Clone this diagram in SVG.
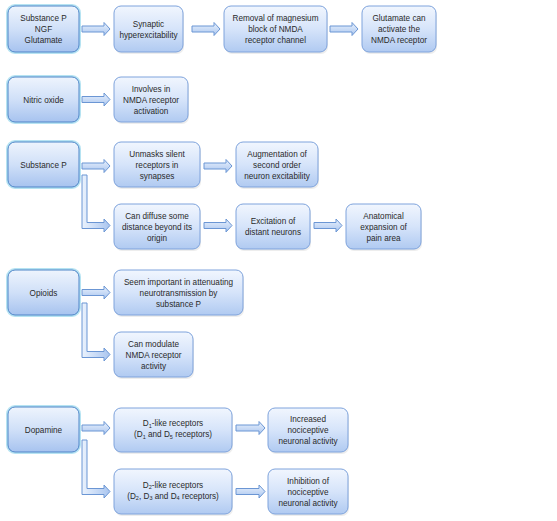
<svg xmlns="http://www.w3.org/2000/svg" width="557" height="521" viewBox="0 0 557 521">
<defs>
<linearGradient id="gBox" x1="0" y1="0" x2="0" y2="1">
<stop offset="0" stop-color="#f1f6fe"/>
<stop offset="0.5" stop-color="#d6e4fa"/>
<stop offset="1" stop-color="#b0caf1"/>
</linearGradient>
<linearGradient id="gSrc" x1="0" y1="0" x2="0" y2="1">
<stop offset="0" stop-color="#eef4fd"/>
<stop offset="0.5" stop-color="#d0e0f8"/>
<stop offset="1" stop-color="#a7c3ef"/>
</linearGradient>
<linearGradient id="gArr" x1="0" y1="0" x2="0" y2="1">
<stop offset="0" stop-color="#eaf2fd"/>
<stop offset="1" stop-color="#a9c5ef"/>
</linearGradient>
<linearGradient id="gArrV" x1="0" y1="0" x2="1" y2="0">
<stop offset="0" stop-color="#eaf2fd"/>
<stop offset="1" stop-color="#a9c5ef"/>
</linearGradient>
</defs>
<style>
.box{fill:url(#gBox);stroke:#7ea3dc;stroke-width:1}
.shadow{fill:#000;opacity:0.07}
.src{fill:url(#gSrc);stroke:#4f85c8;stroke-width:1}
.glow{fill:none;stroke:#aee0f1;stroke-width:4;opacity:0.9}
.arr{fill:url(#gArr);stroke:#6b96d4;stroke-width:1}
.arrL{fill:url(#gArrV);stroke:#6b96d4;stroke-width:1}
text{font-family:"Liberation Sans",Arial,sans-serif;font-size:8.2px;fill:#2a2a2a;text-anchor:middle}
.sub{font-size:5.5px}
</style>

<g id="connectors">
<path class="arr" d="M82,26 H104 V22.5 L110,29 L104,35.5 V32 H82 Z"/>
<path class="arr" d="M192,26 H214 V22.5 L220,29 L214,35.5 V32 H192 Z"/>
<path class="arr" d="M330,26 H352 V22.5 L358,29 L352,35.5 V32 H330 Z"/>
<path class="arr" d="M82,96.5 H104 V93 L110,99.5 L104,106 V102.5 H82 Z"/>
<path class="arr" d="M82,163 H104 V159.5 L110,166 L104,172.5 V169 H82 Z"/>
<path class="arr" d="M204,163 H226 V159.5 L232,166 L226,172.5 V169 H204 Z"/>
<path class="arrL" d="M82,175 H87 V222.5 H104 V219 L110,225.5 L104,232 V228.5 H82 Z"/>
<path class="arr" d="M204,222.5 H226 V219 L232,225.5 L226,232 V228.5 H204 Z"/>
<path class="arr" d="M314,222.5 H336 V219 L342,225.5 L336,232 V228.5 H314 Z"/>
<path class="arr" d="M82,289.5 H104 V286 L110,292.5 L104,299 V295.5 H82 Z"/>
<path class="arrL" d="M82,303 H87 V351.5 H104 V348 L110,354.5 L104,361 V357.5 H82 Z"/>
<path class="arr" d="M82,425 H104 V421.5 L110,428 L104,434.5 V431 H82 Z"/>
<path class="arrL" d="M82,440 H87 V488.5 H104 V485 L110,491.5 L104,498 V494.5 H82 Z"/>
<path class="arr" d="M236,425 H259 V421.5 L265,428 L259,434.5 V431 H236 Z"/>
<path class="arr" d="M236,488.5 H259 V485 L265,491.5 L259,498 V494.5 H236 Z"/>
</g>

<g id="n-substanceP-ngf">
<rect class="glow" x="8" y="6" width="71" height="46" rx="7"/>
<rect class="src" x="8" y="6" width="71" height="46" rx="7"/>
<text x="43.5" y="21">Substance P</text>
<text x="43.5" y="32">NGF</text>
<text x="43.5" y="43">Glutamate</text>
</g>
<g id="n-synaptic">
<rect class="shadow" x="115" y="8" width="69" height="46" rx="7"/>
<rect class="box" x="114" y="6" width="69" height="46" rx="7"/>
<text x="148.5" y="26.5">Synaptic</text>
<text x="148.5" y="37.5">hyperexcitability</text>
</g>
<g id="n-removal">
<rect class="shadow" x="225" y="8" width="103" height="46" rx="7"/>
<rect class="box" x="224" y="6" width="103" height="46" rx="7"/>
<text x="275.5" y="21">Removal of magnesium</text>
<text x="275.5" y="32">block of NMDA</text>
<text x="275.5" y="43">receptor channel</text>
</g>
<g id="n-glutamate">
<rect class="shadow" x="363" y="8" width="74" height="46" rx="7"/>
<rect class="box" x="362" y="6" width="74" height="46" rx="7"/>
<text x="399" y="21">Glutamate can</text>
<text x="399" y="32">activate the</text>
<text x="399" y="43">NMDA receptor</text>
</g>

<g id="n-nitric">
<rect class="glow" x="8" y="77" width="71" height="45" rx="7"/>
<rect class="src" x="8" y="77" width="71" height="45" rx="7"/>
<text x="43.5" y="102.5">Nitric oxide</text>
</g>
<g id="n-involves">
<rect class="shadow" x="115" y="79" width="74" height="45" rx="7"/>
<rect class="box" x="114" y="77" width="74" height="45" rx="7"/>
<text x="151" y="91.5">Involves in</text>
<text x="151" y="102.5">NMDA receptor</text>
<text x="151" y="113.5">activation</text>
</g>

<g id="n-substanceP">
<rect class="glow" x="8" y="142" width="71" height="45" rx="7"/>
<rect class="src" x="8" y="142" width="71" height="45" rx="7"/>
<text x="43.5" y="167.5">Substance P</text>
</g>
<g id="n-unmasks">
<rect class="shadow" x="115" y="144" width="86" height="45" rx="7"/>
<rect class="box" x="114" y="142" width="86" height="45" rx="7"/>
<text x="157" y="156.5">Unmasks silent</text>
<text x="157" y="167.5">receptors in</text>
<text x="157" y="178.5">synapses</text>
</g>
<g id="n-augmentation">
<rect class="shadow" x="237" y="144" width="82" height="45" rx="7"/>
<rect class="box" x="236" y="142" width="82" height="45" rx="7"/>
<text x="277" y="156.5">Augmentation of</text>
<text x="277" y="167.5">second order</text>
<text x="277" y="178.5">neuron excitability</text>
</g>
<g id="n-diffuse">
<rect class="shadow" x="115" y="206" width="86" height="45" rx="7"/>
<rect class="box" x="114" y="204" width="86" height="45" rx="7"/>
<text x="157" y="218.5">Can diffuse some</text>
<text x="157" y="229.5">distance beyond its</text>
<text x="157" y="240.5">origin</text>
</g>
<g id="n-excitation">
<rect class="shadow" x="237" y="206" width="74" height="45" rx="7"/>
<rect class="box" x="236" y="204" width="74" height="45" rx="7"/>
<text x="273" y="224">Excitation of</text>
<text x="273" y="235">distant neurons</text>
</g>
<g id="n-anatomical">
<rect class="shadow" x="347" y="206" width="75" height="45" rx="7"/>
<rect class="box" x="346" y="204" width="75" height="45" rx="7"/>
<text x="383.5" y="218.5">Anatomical</text>
<text x="383.5" y="229.5">expansion of</text>
<text x="383.5" y="240.5">pain area</text>
</g>

<g id="n-opioids">
<rect class="glow" x="8" y="270" width="71" height="45" rx="7"/>
<rect class="src" x="8" y="270" width="71" height="45" rx="7"/>
<text x="43.5" y="295.5">Opioids</text>
</g>
<g id="n-seem">
<rect class="shadow" x="115" y="272" width="129" height="45" rx="7"/>
<rect class="box" x="114" y="270" width="129" height="45" rx="7"/>
<text x="178.5" y="284.5">Seem important in attenuating</text>
<text x="178.5" y="295.5">neurotransmission by</text>
<text x="178.5" y="306.5">substance P</text>
</g>
<g id="n-modulate">
<rect class="shadow" x="115" y="334" width="79" height="45" rx="7"/>
<rect class="box" x="114" y="332" width="79" height="45" rx="7"/>
<text x="153.5" y="346.5">Can modulate</text>
<text x="153.5" y="357.5">NMDA receptor</text>
<text x="153.5" y="368.5">activity</text>
</g>

<g id="n-dopamine">
<rect class="glow" x="8" y="407" width="71" height="45" rx="7"/>
<rect class="src" x="8" y="407" width="71" height="45" rx="7"/>
<text x="43.5" y="432.5">Dopamine</text>
</g>
<g id="n-d1">
<rect class="shadow" x="115" y="410" width="118" height="44" rx="7"/>
<rect class="box" x="114" y="408" width="118" height="44" rx="7"/>
<text x="173" y="426">D<tspan class="sub" dy="1.5">1</tspan><tspan dy="-1.5">-like receptors</tspan></text>
<text x="173" y="437">(D<tspan class="sub" dy="1.5">1</tspan><tspan dy="-1.5"> and D</tspan><tspan class="sub" dy="1.5">5</tspan><tspan dy="-1.5"> receptors)</tspan></text>
</g>
<g id="n-increased">
<rect class="shadow" x="269" y="410" width="80" height="44" rx="7"/>
<rect class="box" x="268" y="408" width="80" height="44" rx="7"/>
<text x="308" y="422">Increased</text>
<text x="308" y="433">nociceptive</text>
<text x="308" y="444">neuronal activity</text>
</g>
<g id="n-d2">
<rect class="shadow" x="115" y="471" width="118" height="45" rx="7"/>
<rect class="box" x="114" y="469" width="118" height="45" rx="7"/>
<text x="173" y="487.5">D<tspan class="sub" dy="1.5">2</tspan><tspan dy="-1.5">-like receptors</tspan></text>
<text x="173" y="498.5">(D<tspan class="sub" dy="1.5">2</tspan><tspan dy="-1.5">, D</tspan><tspan class="sub" dy="1.5">3</tspan><tspan dy="-1.5"> and D</tspan><tspan class="sub" dy="1.5">4</tspan><tspan dy="-1.5"> receptors)</tspan></text>
</g>
<g id="n-inhibition">
<rect class="shadow" x="269" y="471" width="80" height="45" rx="7"/>
<rect class="box" x="268" y="469" width="80" height="45" rx="7"/>
<text x="308" y="483.5">Inhibition of</text>
<text x="308" y="494.5">nociceptive</text>
<text x="308" y="505.5">neuronal activity</text>
</g>
</svg>
